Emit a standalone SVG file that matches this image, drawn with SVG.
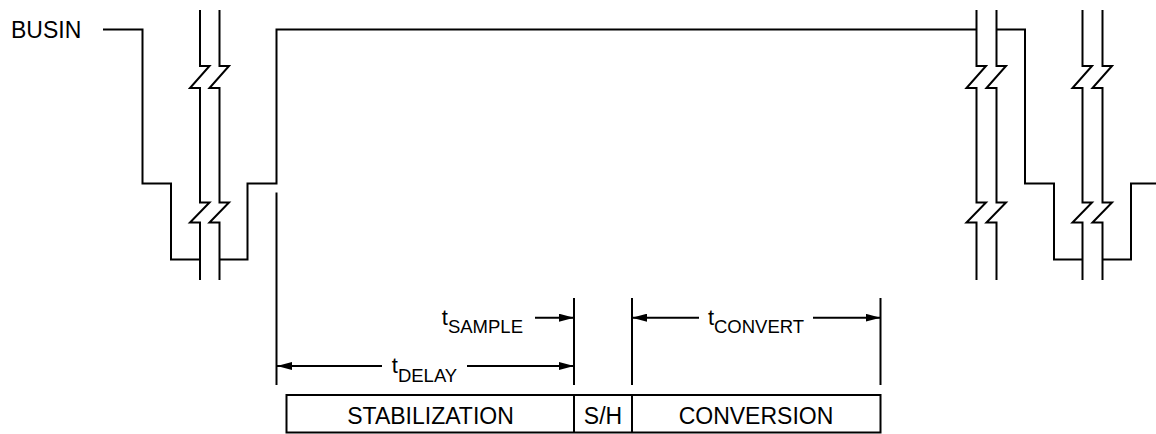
<svg xmlns="http://www.w3.org/2000/svg" width="1156" height="434" viewBox="0 0 1156 434">
<style>
.ln{fill:none;stroke:#000;stroke-width:2;stroke-linejoin:miter}
.tx{font-family:"Liberation Sans",Arial,sans-serif;fill:#000}
.lb{font-size:23px}
.tm{font-size:22px}
.ts{font-size:18.5px}
</style>
<defs>
<marker id="ah" viewBox="0 0 15 8" refX="15" refY="4" markerWidth="15" markerHeight="8" markerUnits="userSpaceOnUse" orient="auto-start-reverse">
<path d="M0,0 L15,4 L0,8 z" fill="#000"/>
</marker>
<path id="brk" d="M0,10 V66 H9.5 L-10,88 H0 V202.5 H9.5 L-10,222.5 H0 V280"/>
</defs>
<g id="busin-label"><text class="tx lb" x="11" y="38.3">BUSIN</text></g>
<g id="signal">
<path class="ln" d="M103,29.5 H142.5 V183.5 H171 V259.5 H200"/>
<path class="ln" d="M219.5,259.5 H247.5 V183.5 H276.5 V29.5 H976.5"/>
<path class="ln" d="M996.5,29.5 H1025 V183.5 H1054 V259.5 H1082.5"/>
<path class="ln" d="M1102.5,259.5 H1131 V183.5 H1156"/>
</g>
<g id="breaks">
<use href="#brk" class="ln" x="200" y="0"/>
<use href="#brk" class="ln" x="219.5" y="0"/>
<use href="#brk" class="ln" x="976.5" y="0"/>
<use href="#brk" class="ln" x="996.5" y="0"/>
<use href="#brk" class="ln" x="1082.5" y="0"/>
<use href="#brk" class="ln" x="1102.5" y="0"/>
</g>
<g id="connectors">
<path class="ln" d="M276.5,192.5 V385"/>
<path class="ln" d="M574,298 V385"/>
<path class="ln" d="M632,298 V385"/>
<path class="ln" d="M880.5,298 V385"/>
<line class="ln" x1="535" y1="317.7" x2="574" y2="317.7" marker-end="url(#ah)"/>
<line class="ln" x1="277" y1="366" x2="382" y2="366" marker-start="url(#ah)"/>
<line class="ln" x1="467" y1="366" x2="574" y2="366" marker-end="url(#ah)"/>
<line class="ln" x1="632" y1="317.7" x2="699" y2="317.7" marker-start="url(#ah)"/>
<line class="ln" x1="813" y1="317.7" x2="880.5" y2="317.7" marker-end="url(#ah)"/>
</g>
<g id="t-sample"><text class="tx tm" x="523" y="325" text-anchor="end">t<tspan class="ts" dy="8.3">SAMPLE</tspan></text></g>
<g id="t-delay"><text class="tx tm" x="424.5" y="373.3" text-anchor="middle">t<tspan class="ts" dy="8.3">DELAY</tspan></text></g>
<g id="t-convert"><text class="tx tm" x="756" y="325" text-anchor="middle">t<tspan class="ts" dy="8.3">CONVERT</tspan></text></g>
<g id="phase-bar">
<rect class="ln" x="286.5" y="395" width="594" height="37.5"/>
<line class="ln" x1="574" y1="395" x2="574" y2="432.5"/>
<line class="ln" x1="632" y1="395" x2="632" y2="432.5"/>
<text class="tx lb" x="430.5" y="423.5" text-anchor="middle">STABILIZATION</text>
<text class="tx lb" x="603" y="423.5" text-anchor="middle">S/H</text>
<text class="tx lb" x="756" y="423.5" text-anchor="middle">CONVERSION</text>
</g>
</svg>
